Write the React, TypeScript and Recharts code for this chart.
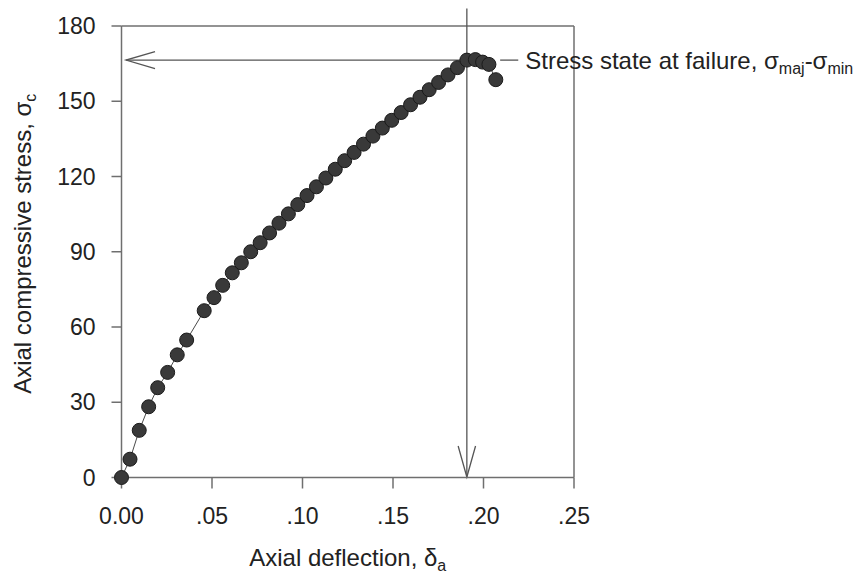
import React from "react";
import { ScatterChart, Scatter, XAxis, YAxis, ReferenceLine, Label } from "recharts";

// Axial deflection readings and the matching compressive stress
const deflection = [
  0, 0.0047, 0.0098, 0.015, 0.02, 0.0255, 0.0308, 0.036, 0.0457, 0.0511,
  0.0559, 0.0612, 0.0662, 0.0714, 0.0766, 0.0818, 0.087, 0.0922, 0.0974,
  0.1025, 0.1077, 0.1129, 0.1181, 0.1233, 0.1285, 0.1337, 0.1389, 0.1441,
  0.1493, 0.1545, 0.1597, 0.1649, 0.17, 0.1752, 0.1804, 0.1856, 0.1908,
  0.1955, 0.1995, 0.203, 0.2068,
];
const stress = [
  0, 7.3, 18.8, 28.2, 35.8, 41.9, 48.9, 54.8, 66.5, 71.7,
  76.6, 81.6, 85.6, 90.0, 93.6, 97.5, 101.4, 105.1, 108.8,
  112.4, 115.9, 119.4, 122.9, 126.3, 129.6, 132.9, 136.1, 139.3,
  142.4, 145.5, 148.6, 151.6, 154.6, 157.5, 160.5, 163.4, 166.4,
  166.6, 165.6, 164.7, 158.6,
];
const xTicks = [0, 0.05, 0.1, 0.15, 0.2, 0.25];
const yTicks = [0, 30, 60, 90, 120, 150, 180];

// failure point picked off the curve
const failureDeflection = 0.1908;
const failureStress = 166.4;

const data = deflection.map((d, i) => ({ d, s: stress[i] }));

const FONT = '"Liberation Sans", Arial, Helvetica, sans-serif';
const AXIS = "#6f6f6f";
const INK = "#222";
const ARROW = "#555";
const TEXT_SIZE = 24;
const SUB_SIZE = 16;

const fmtX = (v: number) => (v === 0 ? "0.00" : v.toFixed(2).replace(/^0/, ""));

function Dot(p: any) {
  return <circle cx={p.cx} cy={p.cy} r={7} fill="#393939" stroke="#1b1b1b" strokeWidth={1} />;
}

function XTitle(p: any) {
  const vb = p.viewBox;
  return (
    <text x={vb.x + vb.width / 2} y={vb.y + 88.5} textAnchor="middle" fontFamily={FONT} fontSize={TEXT_SIZE} fill={INK}>
      Axial deflection, δ<tspan dy={5} fontSize={SUB_SIZE}>a</tspan>
    </text>
  );
}

function YTitle(p: any) {
  const vb = p.viewBox;
  const cx = 31;
  const cy = vb.y + vb.height / 2 - 8;
  return (
    <text x={cx} y={cy} transform={`rotate(-90, ${cx}, ${cy})`} textAnchor="middle" fontFamily={FONT} fontSize={TEXT_SIZE} fill={INK}>
      Axial compressive stress, σ<tspan dy={5} fontSize={SUB_SIZE}>c</tspan>
    </text>
  );
}

// horizontal arrow, head at the start of the segment
function LeftArrow(p: any) {
  const { x1, y1, x2, y2 } = p;
  return (
    <g stroke={ARROW} strokeWidth={1.3} fill="none">
      <line x1={x1} y1={y1} x2={x2} y2={y2} />
      <polyline points={`${x1 + 29},${y1 - 8.5} ${x1},${y1} ${x1 + 29},${y1 + 8.5}`} />
    </g>
  );
}

// vertical arrow, head at the end of the segment
function DownArrow(p: any) {
  const { x1, y1, x2, y2 } = p;
  return (
    <g stroke={ARROW} strokeWidth={1.3} fill="none">
      <line x1={x1} y1={y1} x2={x2} y2={y2} />
      <polyline points={`${x2 - 8.7},${y2 - 31} ${x2},${y2} ${x2 + 8.7},${y2 - 31}`} />
    </g>
  );
}

function FailureNote(p: any) {
  const { x1, y1, x2, y2 } = p;
  return (
    <g>
      <line x1={x1} y1={y1} x2={x2} y2={y2} stroke={ARROW} strokeWidth={1.3} />
      <text x={x2 + 7} y={y2 + 9} fontFamily={FONT} fontSize={TEXT_SIZE} fill={INK}>
        Stress state at failure, σ
        <tspan dy={5} fontSize={SUB_SIZE}>maj</tspan>
        <tspan dy={-5}>-σ</tspan>
        <tspan dy={5} fontSize={SUB_SIZE}>min</tspan>
      </text>
    </g>
  );
}

export default function App() {
  return (
    <div style={{ position: "absolute", left: 0, top: 0, width: 855, height: 577, background: "#fff" }}>
      <ScatterChart width={855} height={577} margin={{ top: 26, right: 281, bottom: 39.5, left: 61.5 }}>
        <XAxis
          type="number"
          dataKey="d"
          domain={[0, 0.25]}
          ticks={xTicks}
          interval={0}
          tickFormatter={fmtX}
          height={60}
          tickSize={11}
          tickMargin={19}
          axisLine={{ stroke: AXIS, strokeWidth: 1.5 }}
          tickLine={{ stroke: AXIS, strokeWidth: 1.5 }}
          tick={{ fill: INK, fontSize: 23, fontFamily: FONT }}
        >
          <Label content={XTitle} />
        </XAxis>
        <YAxis
          type="number"
          dataKey="s"
          domain={[0, 180]}
          ticks={yTicks}
          interval={0}
          width={60}
          tickSize={10}
          tickMargin={16}
          axisLine={{ stroke: AXIS, strokeWidth: 1.5 }}
          tickLine={{ stroke: AXIS, strokeWidth: 1.5 }}
          tick={{ fill: INK, fontSize: 23, fontFamily: FONT }}
        >
          <Label content={YTitle} />
        </YAxis>
        <ReferenceLine y={180} stroke={AXIS} strokeWidth={1.5} />
        <ReferenceLine x={0.25} stroke={AXIS} strokeWidth={1.5} />
        <ReferenceLine
          segment={[{ x: 0.0025, y: failureStress }, { x: failureDeflection, y: failureStress }]}
          shape={LeftArrow}
          ifOverflow="visible"
        />
        <ReferenceLine
          segment={[{ x: failureDeflection, y: 187 }, { x: failureDeflection, y: 0.2 }]}
          shape={DownArrow}
          ifOverflow="visible"
        />
        <ReferenceLine
          segment={[{ x: 0.2092, y: failureStress }, { x: 0.2192, y: failureStress }]}
          shape={FailureNote}
          ifOverflow="visible"
        />
        <Scatter
          data={data}
          line={{ stroke: "#4a4a4a", strokeWidth: 1 }}
          shape={Dot}
          isAnimationActive={false}
        />
      </ScatterChart>
    </div>
  );
}
